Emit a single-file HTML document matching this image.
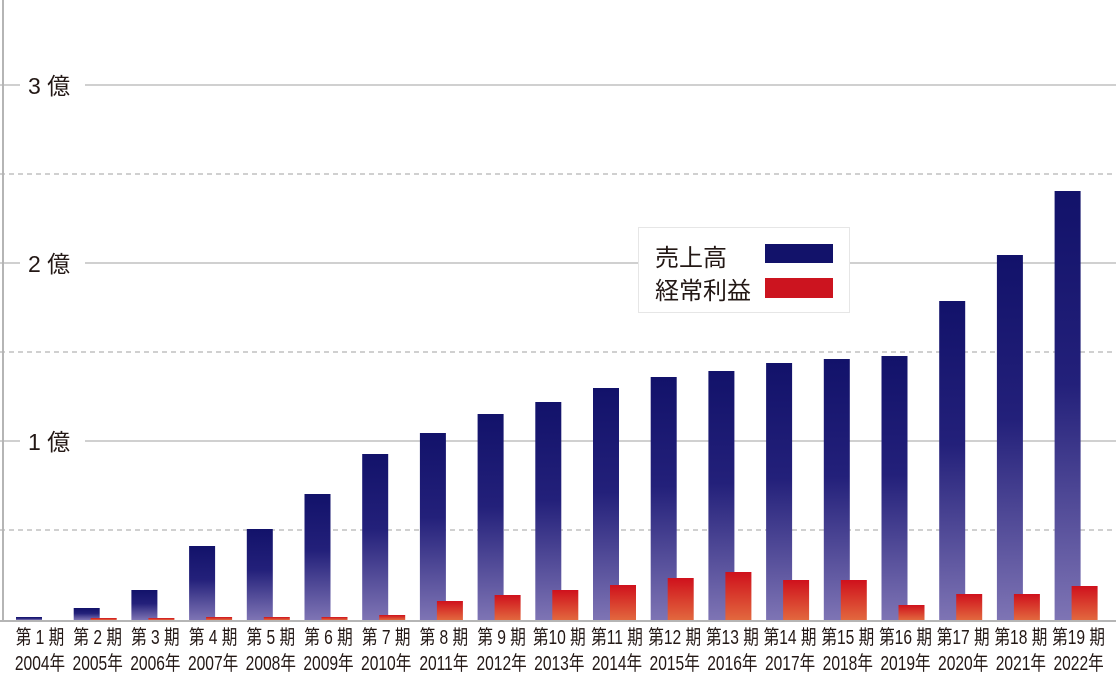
<!DOCTYPE html><html><head><meta charset="utf-8"><style>body{margin:0;background:#fff}svg{display:block}text{font-family:"Liberation Sans","Noto Sans CJK JP",sans-serif;fill:#231815}</style></head><body>
<svg width="1116" height="677" viewBox="0 0 1116 677">
<defs>
<linearGradient id="b" x1="0" y1="0" x2="0" y2="1"><stop offset="0" stop-color="#12126a"/><stop offset="0.45" stop-color="#23207a"/><stop offset="1" stop-color="#7e74b4"/></linearGradient>
<linearGradient id="r" x1="0" y1="0" x2="0" y2="1"><stop offset="0" stop-color="#cf111c"/><stop offset="1" stop-color="#e2683e"/></linearGradient>
</defs>
<line x1="3" y1="0" x2="3" y2="622" stroke="#b5b5b5" stroke-width="2"/>
<g stroke="#b5b5b5" stroke-width="1.3">
<line x1="85" y1="85" x2="1116" y2="85"/><line x1="85" y1="263" x2="1116" y2="263"/><line x1="85" y1="441" x2="1116" y2="441"/>
<line x1="0" y1="85" x2="20" y2="85"/><line x1="0" y1="263" x2="20" y2="263"/><line x1="0" y1="441" x2="20" y2="441"/>
</g>
<g stroke="#b5b5b5" stroke-width="1.2" stroke-dasharray="5,4">
<line x1="0" y1="174" x2="1116" y2="174"/><line x1="0" y1="352" x2="1116" y2="352"/><line x1="0" y1="530" x2="1116" y2="530"/>
</g>
<g font-size="23"><text x="28" y="94">3 億</text><text x="28" y="272">2 億</text><text x="28" y="450">1 億</text></g>
<g id="bars"></g>
<line x1="0" y1="621" x2="1116" y2="621" stroke="#b5b5b5" stroke-width="2"/>
<g id="labels" font-size="20"></g>
<rect x="638.5" y="227.5" width="211" height="85" fill="#fff" stroke="#e6e6e6"/>
<text x="655" y="266" font-size="24">売上高</text>
<text x="655" y="299" font-size="24">経常利益</text>
<rect x="765" y="244" width="68" height="19" fill="#12126a"/>
<rect x="765" y="278" width="68" height="20" fill="#cc141f"/>
</svg>
<script>
var B=[617,608,590,546,529,494,454,433,414,402,388,377,371,363,359,356,301,255,191];
var R=[620,618,618,617,617,617,615,601,595,590,585,578,572,580,580,605,594,594,586];
var g=document.getElementById('bars'),l=document.getElementById('labels'),h='';
for(var i=0;i<19;i++){var x=16+i*57.7;
h+='<rect x="'+x+'" y="'+B[i]+'" width="26" height="'+(620-B[i])+'" fill="url(#b)"/>';
if(i>0)h+='<rect x="'+(x+17)+'" y="'+R[i]+'" width="26" height="'+(620-R[i])+'" fill="url(#r)"/>';}
g.innerHTML=h;h='';
for(var i=0;i<19;i++){var c=16+i*57.7+24;var n=i+1;var t=n<10?'第 '+n+' 期':'第'+n+' 期';
var tr=' transform="translate('+c+',0) scale(0.78,1) translate('+(-c)+',0)"';
h+='<text x="'+c+'" y="644" text-anchor="middle"'+tr+'>'+t+'</text>';
h+='<text x="'+c+'" y="670" text-anchor="middle"'+tr+'>'+(2004+i)+'年</text>';}
l.innerHTML=h;
</script>
</body></html>
